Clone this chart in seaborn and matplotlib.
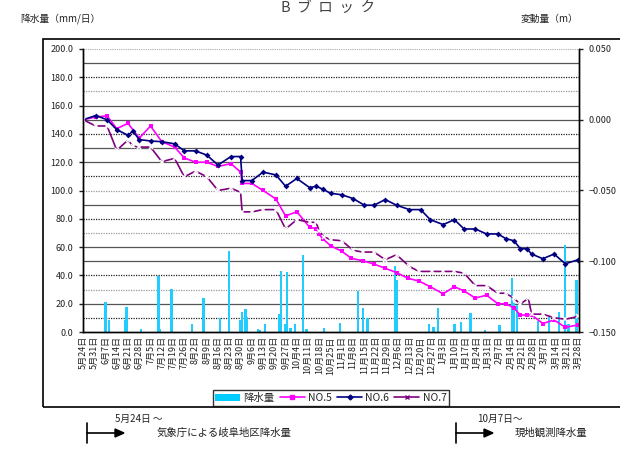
import pandas as pd
import matplotlib
matplotlib.use("Agg")
import matplotlib.pyplot as plt
from matplotlib.lines import Line2D
from matplotlib.patches import Patch, Rectangle
import seaborn as sns

sns.set_theme(style="white")
plt.rcParams['font.family'] = ['Noto Sans CJK JP', 'DejaVu Sans']

start = pd.Timestamp("2005-05-24")
end = pd.Timestamp("2006-03-28")

# daily rainfall (mm/day), as days after 5/24
rain_day = [14, 16, 26, 27, 36, 47, 48, 55, 68, 75, 85, 91, 98, 99, 101, 102,
            109, 110, 113, 122, 123, 126, 127, 129, 132, 137, 139, 150, 160,
            171, 174, 177, 194, 195, 215, 218, 221, 231, 235, 241, 250, 259,
            267, 268, 270, 283, 290, 296, 300, 302, 307]
rain_mm = [21.5, 8.5, 8.5, 17.5, 2.0, 39.7, 2.0, 30.3, 5.7, 23.9, 9.7, 57.4,
           8.5, 14.4, 16.3, 10.4, 1.9, 1.5, 5.7, 12.8, 43.3, 5.7, 42.6, 2.8,
           5.7, 54.6, 2.0, 2.6, 6.6, 29.3, 17.3, 9.7, 46.3, 36.9, 5.7, 3.8,
           17.3, 5.7, 7.3, 13.5, 1.5, 5.0, 38.0, 20.3, 19.0, 7.5, 10.5, 14.0,
           61.7, 6.0, 37.0]

# displacement (m), as days after 5/24
no5_day = [0, 8, 15, 21, 28, 35, 42, 49, 57, 63, 70, 77, 84, 92, 98, 99, 105,
           112, 120, 126, 133, 141, 145, 147, 149, 154, 161, 167, 174, 181,
           188, 195, 202, 209, 216, 224, 231, 237, 244, 251, 258, 263, 268,
           272, 276, 279, 286, 293, 300, 308]
no5_m = [0.000, 0.002, 0.0027, -0.0063, -0.0025, -0.013, -0.0044, -0.0155,
         -0.0193, -0.027, -0.030, -0.030, -0.033, -0.031, -0.037, -0.045,
         -0.045, -0.050, -0.056, -0.068, -0.065, -0.076, -0.077, -0.081,
         -0.084, -0.089, -0.093, -0.098, -0.0996, -0.102, -0.105, -0.108,
         -0.112, -0.114, -0.118, -0.123, -0.118, -0.121, -0.126, -0.124,
         -0.130, -0.130, -0.133, -0.138, -0.138, -0.138, -0.144, -0.1415,
         -0.1467, -0.145]

no6_day = [0, 8, 15, 21, 28, 31, 35, 42, 49, 57, 63, 70, 77, 84, 92, 98, 99,
           105, 112, 120, 126, 133, 141, 145, 149, 154, 161, 168, 175, 181,
           188, 195, 203, 210, 216, 224, 231, 237, 244, 251, 258, 263, 268,
           272, 276, 279, 286, 293, 300, 308]
no6_m = [0.000, 0.003, 0.000, -0.007, -0.011, -0.008, -0.014, -0.015,
         -0.0155, -0.017, -0.022, -0.022, -0.025, -0.032, -0.026, -0.026,
         -0.043, -0.043, -0.037, -0.039, -0.047, -0.0415, -0.048, -0.047,
         -0.049, -0.052, -0.053, -0.0557, -0.0604, -0.0604, -0.0564, -0.0604,
         -0.0635, -0.0635, -0.0706, -0.0741, -0.0706, -0.0772, -0.0772,
         -0.0807, -0.0807, -0.084, -0.0855, -0.0911, -0.0911, -0.0949,
         -0.0982, -0.0949, -0.1018, -0.0989]

no7_day = [0, 8, 15, 21, 28, 31, 35, 42, 49, 57, 63, 70, 77, 84, 92, 98, 99,
           105, 112, 120, 126, 133, 141, 145, 147, 150, 154, 161, 168, 174,
           181, 188, 195, 203, 209, 217, 224, 231, 237, 244, 251, 258, 263,
           268, 272, 277, 279, 286, 293, 300, 308]
no7_m = [0.000, -0.0044, -0.0044, -0.0216, -0.0143, -0.0186, -0.0193,
         -0.0193, -0.0296, -0.0273, -0.0403, -0.0363, -0.0403, -0.050,
         -0.0484, -0.0512, -0.0651, -0.0651, -0.0635, -0.0635, -0.0772,
         -0.0706, -0.0725, -0.0725, -0.0789, -0.0828, -0.0848, -0.0855,
         -0.0923, -0.0935, -0.0935, -0.0989, -0.0954, -0.1037, -0.1072,
         -0.1072, -0.1072, -0.1072, -0.1084, -0.1172, -0.1172, -0.1226,
         -0.1226, -0.1261, -0.1304, -0.1261, -0.1374, -0.1374, -0.1399,
         -0.141, -0.139]


def to_date(days):
    return start + pd.to_timedelta(days, unit="D")


W, H = 620, 450


def fx(x):
    return x / W


def fy(y):
    return 1 - y / H


fig = plt.figure(figsize=(6.2, 4.5), dpi=100)
ax = fig.add_axes([fx(83), fy(332), fx(579) - fx(83), fy(49) - fy(332)])
ax2 = ax.twinx()

# horizontal grid (every 10 mm)
solid = [20, 50, 60, 90, 120, 130, 150, 160, 190]
dot_dark = [10, 40, 80, 110, 140, 180]
dot_gray = [30, 70, 100, 170]
for v in solid:
    ax.axhline(v, color="#555555", lw=0.9, zorder=0)
for v in dot_dark:
    ax.axhline(v, color="#222222", lw=0.9, ls=(0, (1, 1)), zorder=0)
for v in dot_gray:
    ax.axhline(v, color="#999999", lw=0.9, ls=(0, (1, 1)), zorder=0)
ax.axhline(200, color="#aaaaaa", lw=0.8, ls=(0, (1, 1)), zorder=0)

ax.bar(to_date(rain_day), rain_mm, width=1.4, color="#22CCFF",
       edgecolor="none", linewidth=0, zorder=2)

sns.lineplot(x=to_date(no5_day), y=no5_m, ax=ax2, color="#FF00FF", lw=1.2,
             marker="s", markersize=3, markeredgewidth=0)
sns.lineplot(x=to_date(no6_day), y=no6_m, ax=ax2, color="#000080", lw=1.2,
             marker="D", markersize=3, markeredgewidth=0)
sns.lineplot(x=to_date(no7_day), y=no7_m, ax=ax2, color="#800080", lw=1.2,
             marker="x", markersize=3.5, markeredgewidth=1.1)

ax.set_xlim(start, end + pd.Timedelta(hours=12))
ax.set_ylim(0, 200)
ax2.set_ylim(-0.15, 0.05)

ax.set_yticks(range(0, 201, 20))
ax.set_yticklabels([f"{v:.1f}" for v in range(0, 201, 20)])
r_ticks = [-0.15, -0.10, -0.05, 0.0, 0.05]
ax2.set_yticks(r_ticks)
ax2.set_yticklabels([f"{v:.3f}".replace("-", "\u2212") for v in r_ticks])

weeks = pd.date_range(start, end, freq="7D")
ax.set_xticks(weeks)
ax.set_xticklabels([f"{d.month}月{d.day}日" for d in weeks], rotation=90)
ax.set_xlabel("")
ax2.set_xlabel("")
ax2.set_ylabel("")

ax.tick_params(axis="x", direction="in", length=3, width=1, colors="#222222",
               labelsize=6.5, pad=3)
ax.tick_params(axis="y", direction="out", length=3, width=1, colors="#222222",
               labelsize=6.5, pad=4, left=True)
ax2.tick_params(axis="y", direction="out", length=3, width=1, colors="#222222",
                labelsize=6.5, pad=4, right=True)

for a in (ax, ax2):
    a.spines["top"].set_visible(False)
    for s in ("left", "right", "bottom"):
        a.spines[s].set_color("black")
        a.spines[s].set_linewidth(1)

# legend
handles = [
    Patch(facecolor="#00CCFF", edgecolor="none"),
    Line2D([], [], color="#FF00FF", lw=1.2, marker="s", markersize=2.5),
    Line2D([], [], color="#000080", lw=1.2, marker="D", markersize=2.5),
    Line2D([], [], color="#800080", lw=1.2, marker="x", markersize=3),
]
leg = fig.legend(handles, ["降水量", "NO.5", "NO.6", "NO.7"], ncol=4,
                 loc="center", bbox_to_anchor=(fx(331), fy(398)),
                 fontsize=7.5, frameon=True, fancybox=False,
                 handlelength=2.4, handletextpad=0.3, columnspacing=0.5,
                 borderpad=0.25)
leg.get_frame().set_edgecolor("black")
leg.get_frame().set_linewidth(1)

# outer frame
fig.add_artist(Rectangle((fx(43), fy(407)), 1.0, fy(39) - fy(407),
                         transform=fig.transFigure, fill=False,
                         edgecolor="black", lw=1.2))

# titles
fig.text(fx(328), fy(1), "B  ブ  ロ  ッ  ク", ha="center", va="top",
         fontsize=10.5, color="#444444")
fig.text(fx(20), fy(19), "降水量（mm/日）", ha="left", va="center",
         fontsize=7, color="#222222")
fig.text(fx(578), fy(19), "変動量（m）", ha="right", va="center",
         fontsize=7, color="#222222")

# bottom notes
notes = [(87, 124, 115, "5月24日 〜", "気象庁による岐阜地区降水量", 157),
         (456, 493, 477, "10月7日〜", "現地観測降水量", 515)]
for x0, x1, dx, top_txt, txt, tx in notes:
    fig.add_artist(Line2D([fx(x0), fx(x0)], [fy(423), fy(443)],
                          transform=fig.transFigure, color="black", lw=1.2))
    fig.add_artist(Line2D([fx(x0), fx(x1 - 8)], [fy(433), fy(433)],
                          transform=fig.transFigure, color="black", lw=1.2))
    fig.add_artist(plt.Polygon([[fx(x1 - 9), fy(429)], [fx(x1), fy(433)],
                                [fx(x1 - 9), fy(437)]], closed=True,
                               transform=fig.transFigure, color="black"))
    fig.text(fx(dx), fy(419), top_txt, ha="left", va="center", fontsize=7,
             color="#222222")
    fig.text(fx(tx), fy(433), txt, ha="left", va="center", fontsize=7.5,
             color="#222222")

fig.savefig("out.png", dpi=100)
